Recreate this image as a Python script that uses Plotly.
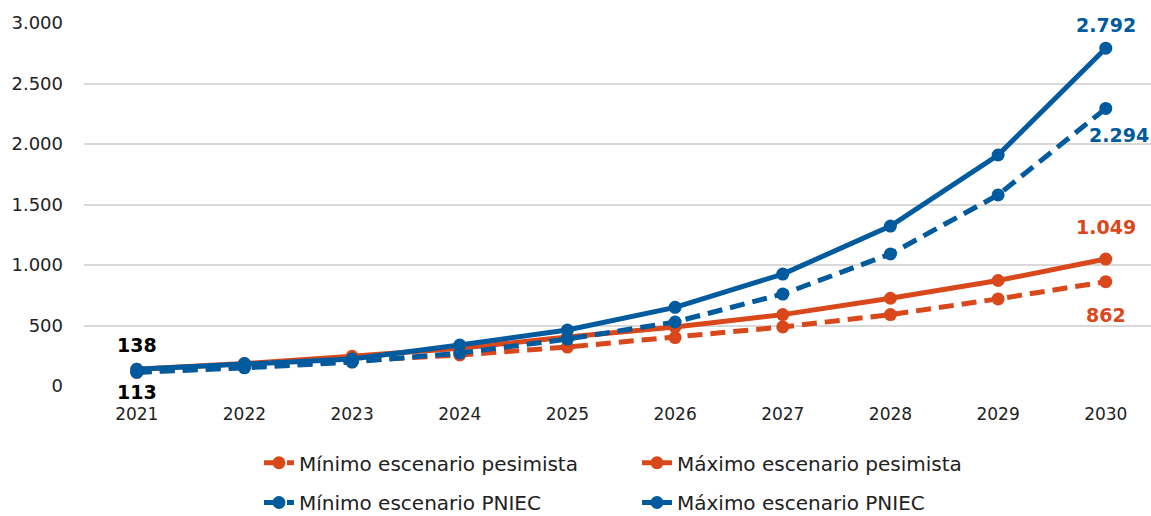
import plotly.graph_objects as go

years = ["2021", "2022", "2023", "2024", "2025", "2026", "2027", "2028", "2029", "2030"]

min_pesimista = [113, 160, 200, 256, 322, 400, 488, 590, 720, 862]
max_pesimista = [138, 185, 245, 312, 405, 488, 590, 725, 872, 1049]
min_pniec = [113, 150, 198, 272, 388, 529, 760, 1091, 1579, 2294]
max_pniec = [138, 185, 223, 339, 463, 650, 925, 1322, 1909, 2792]

ORANGE = "#D9481B"
BLUE = "#005A9E"
FONT = "DejaVu Sans"


def fmt(v):
    return f"{v:,}".replace(",", ".")


fig = go.Figure()

series = [
    ("Mínimo escenario pesimista", min_pesimista, ORANGE, "dash", "legend"),
    ("Máximo escenario pesimista", max_pesimista, ORANGE, "solid", "legend"),
    ("Mínimo escenario PNIEC", min_pniec, BLUE, "dash", "legend2"),
    ("Máximo escenario PNIEC", max_pniec, BLUE, "solid", "legend2"),
]

for name, vals, color, dash, leg in series:
    fig.add_trace(go.Scatter(
        x=years, y=vals, name=name, mode="lines+markers",
        line=dict(color=color, width=5, dash="15px,8px" if dash == "dash" else "solid"),
        marker=dict(color=color, size=13, symbol="circle"),
        cliponaxis=False, legend=leg,
    ))

# value labels (x given as category index)
last = len(years) - 1
labels = [
    (0, max_pniec[0], fmt(max_pniec[0]), "black", 0, 24),
    (0, min_pniec[0], fmt(min_pniec[0]), "black", 0, -20),
    (last, max_pniec[-1], fmt(max_pniec[-1]), BLUE, 0, 23),
    (last, min_pniec[-1], fmt(min_pniec[-1]), BLUE, 13, -27),
    (last, max_pesimista[-1], fmt(max_pesimista[-1]), ORANGE, 0, 32),
    (last, min_pesimista[-1], fmt(min_pesimista[-1]), ORANGE, 0, -33),
]
for x, y, t, c, xs, ys in labels:
    fig.add_annotation(x=x, y=y, xref="x", yref="y", text=f"<b>{t}</b>",
                       showarrow=False, xshift=xs, yshift=ys,
                       font=dict(family=FONT, size=19, color=c))

legend_style = dict(orientation="h", x=0.164, xanchor="left",
                    yref="container", yanchor="top",
                    entrywidth=333, entrywidthmode="pixels",
                    font=dict(family=FONT, size=20, color="#222222"),
                    bgcolor="rgba(0,0,0,0)")

fig.update_layout(
    width=1151, height=516,
    margin=dict(l=84, r=0, t=23, b=130, autoexpand=False),
    paper_bgcolor="white", plot_bgcolor="white",
    separators=",.",
    font=dict(family=FONT, size=17, color="#222222"),
    xaxis=dict(type="category", range=[-0.49, 9.42], showgrid=False,
               showline=False, zeroline=False, ticks="", automargin=False,
               ticklabelstandoff=16,
               tickfont=dict(size=17, color="#222222")),
    yaxis=dict(range=[0, 3000], dtick=500, tickformat=",d",
               showgrid=True, gridcolor="#D9D9D9", gridwidth=2,
               zeroline=False, showline=False, ticks="", automargin=False,
               ticklabelstandoff=20,
               tickfont=dict(size=18, color="#222222")),
    legend=dict(y=0.141, **legend_style),
    legend2=dict(y=0.064, **legend_style),
    showlegend=True,
)

fig.write_html("out.html")
